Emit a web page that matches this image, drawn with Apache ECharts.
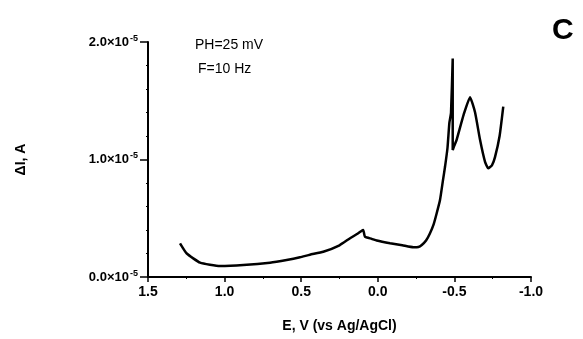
<!DOCTYPE html>
<html><head><meta charset="utf-8">
<script src="https://cdn.jsdelivr.net/npm/echarts@6/dist/echarts.min.js"></script>
<style>html,body{margin:0;padding:0;background:#fff}#c{width:583px;height:339px}</style>
</head><body><div id="c"></div>
<script>
// Potential E (V vs Ag/AgCl)
const potentialV = [1.291, 1.247, 1.16, 1.03, 0.878, 0.704, 0.595, 0.508, 0.443, 0.356, 0.25, 0.181, 0.13, 0.105, 0.095, 0.084, 0.04, 0.007, -0.08, -0.16, -0.232, -0.265, -0.287, -0.315, -0.34, -0.365, -0.384, -0.406, -0.425, -0.439, -0.455, -0.467, -0.478, -0.489, -0.489, -0.50, -0.515, -0.56, -0.602, -0.635, -0.667, -0.70, -0.721, -0.745, -0.765, -0.795, -0.819];
// Delta I (A)
const deltaI = [0.287e-5, 0.20e-5, 0.122e-5, 0.094e-5, 0.102e-5, 0.122e-5, 0.145e-5, 0.168e-5, 0.19e-5, 0.215e-5, 0.27e-5, 0.33e-5, 0.37e-5, 0.394e-5, 0.40e-5, 0.343e-5, 0.325e-5, 0.31e-5, 0.287e-5, 0.27e-5, 0.253e-5, 0.255e-5, 0.272e-5, 0.31e-5, 0.37e-5, 0.45e-5, 0.54e-5, 0.655e-5, 0.82e-5, 0.94e-5, 1.1e-5, 1.31e-5, 1.4e-5, 1.86e-5, 1.08e-5, 1.12e-5, 1.17e-5, 1.38e-5, 1.53e-5, 1.40e-5, 1.17e-5, 0.98e-5, 0.925e-5, 0.95e-5, 1.02e-5, 1.2e-5, 1.45e-5];
const xTicks = [1.5, 1.0, 0.5, 0.0, -0.5, -1.0];
const yTickMantissa = ['0.0', '1.0', '2.0'];
const yTickExponent = '-5';
const annotations = ['PH=25 mV', 'F=10 Hz'];
const panelLabel = 'C';

const chart = echarts.init(document.getElementById('c'), null, {renderer: 'canvas'});
const font = 'Liberation Sans, Arial, sans-serif';
chart.setOption({
  animation: false,
  backgroundColor: '#fff',
  grid: {left: 148, right: 52, top: 42, bottom: 62},
  xAxis: {
    type: 'value', min: -1.0, max: 1.5, interval: 0.5, inverse: true,
    name: 'E, V (vs Ag/AgCl)', nameLocation: 'middle', nameGap: 42,
    nameTextStyle: {fontFamily: font, fontWeight: 'bold', fontSize: 14, color: '#000'},
    axisLine: {onZero: false, lineStyle: {color: '#000', width: 2}},
    axisTick: {lineStyle: {color: '#000', width: 1.5}, length: 5},
    minorTick: {show: true, splitNumber: 2, length: 2, lineStyle: {color: '#000'}},
    splitLine: {show: false},
    axisLabel: {fontFamily: font, fontWeight: 'bold', fontSize: 14, color: '#000', margin: 8,
      formatter: v => xTicks.includes(Math.round(v*10)/10) ? (Math.round(v*10)/10).toFixed(1) : ''}
  },
  yAxis: {
    type: 'value', min: 0, max: 2e-5, interval: 1e-5,
    name: 'ΔI, A', nameLocation: 'middle', nameGap: 120, nameRotate: 90,
    nameTextStyle: {fontFamily: font, fontWeight: 'bold', fontSize: 14, color: '#000'},
    axisLine: {show: true, onZero: false, lineStyle: {color: '#000', width: 2}},
    axisTick: {show: true, lineStyle: {color: '#000', width: 1.5}, length: 8},
    minorTick: {show: true, splitNumber: 5, length: 2, lineStyle: {color: '#000'}},
    splitLine: {show: false},
    axisLabel: {color: '#000', margin: 10,
      formatter: v => '{a|' + (yTickMantissa[Math.round(v/1e-5)] || '') + '×10}{b|' + yTickExponent + '}',
      rich: {
        a: {fontFamily: font, fontWeight: 'bold', fontSize: 13, color: '#000', lineHeight: 16},
        b: {fontFamily: font, fontWeight: 'bold', fontSize: 9, color: '#000', verticalAlign: 'top', padding: [0, 0, 6, 1]}
      }}
  },
  series: [{
    type: 'line', data: potentialV.map((e, i) => [e, deltaI[i]]),
    showSymbol: false, smooth: 0.15,
    lineStyle: {color: '#000', width: 2.5}
  }],
  graphic: [
    {type: 'text', left: 195, top: 38, style: {text: annotations[0], font: '14px ' + font, fill: '#000'}},
    {type: 'text', left: 198, top: 62, style: {text: annotations[1], font: '14px ' + font, fill: '#000'}},
    {type: 'text', left: 552, top: 16, style: {text: panelLabel, font: 'bold 30px ' + font, fill: '#000'}}
  ]
});
</script></body></html>
